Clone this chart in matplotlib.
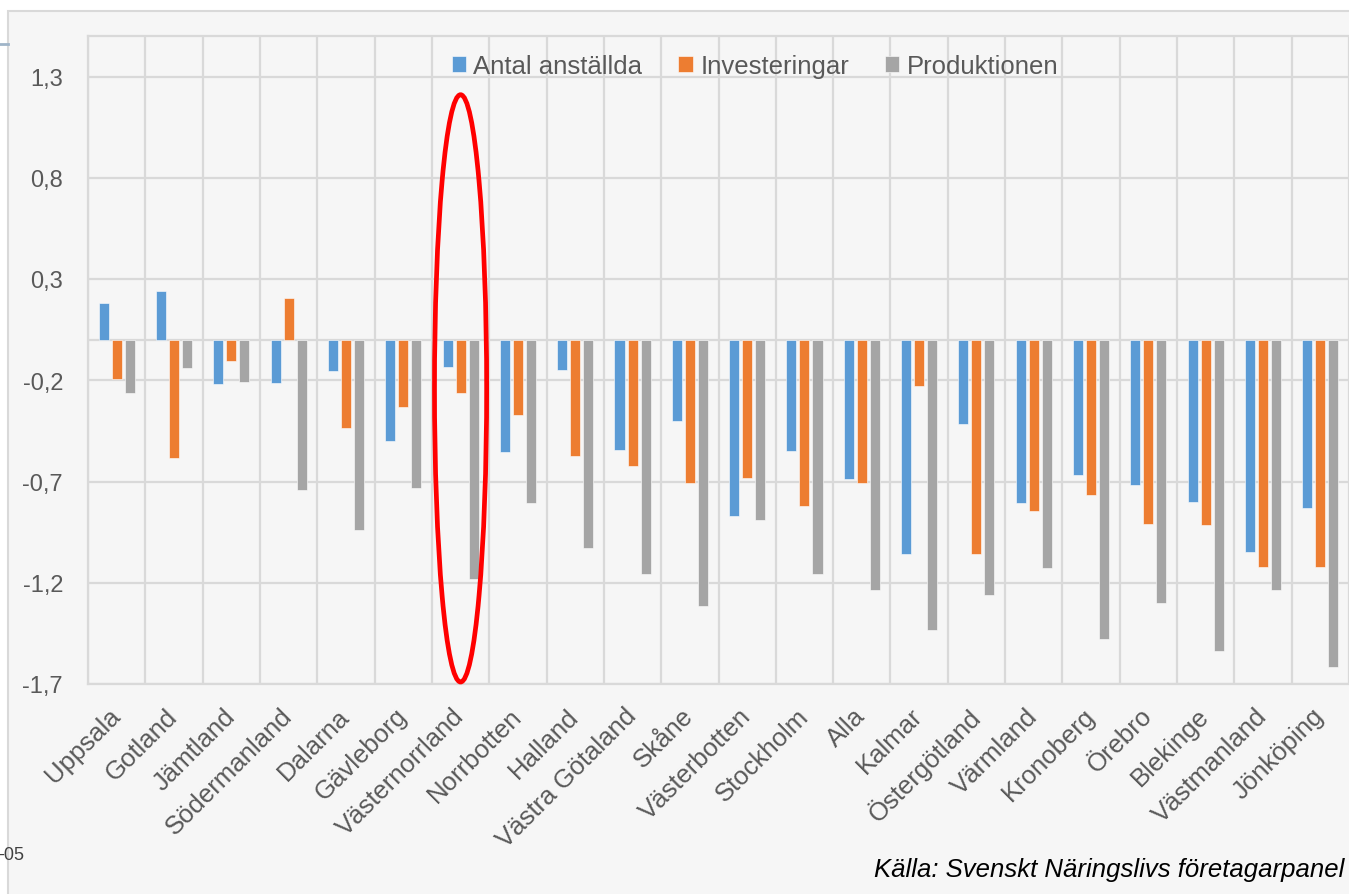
import numpy as np
import matplotlib
matplotlib.use("Agg")
import matplotlib.pyplot as plt
from matplotlib.patches import Ellipse, Rectangle
from matplotlib.lines import Line2D
from matplotlib.ticker import FuncFormatter

plt.rcParams['font.family'] = ['Liberation Sans', 'DejaVu Sans']

regions = ['Uppsala', 'Gotland', 'Jämtland', 'Södermanland', 'Dalarna', 'Gävleborg',
           'Västernorrland', 'Norrbotten', 'Halland', 'Västra Götaland', 'Skåne',
           'Västerbotten', 'Stockholm', 'Alla', 'Kalmar', 'Östergötland', 'Värmland',
           'Kronoberg', 'Örebro', 'Blekinge', 'Västmanland', 'Jönköping']

antal_anstallda = [0.18, 0.24, -0.22, -0.215, -0.155, -0.50, -0.137, -0.555, -0.15, -0.545,
                   -0.40, -0.87, -0.55, -0.69, -1.058, -0.415, -0.808, -0.667, -0.718,
                   -0.803, -1.05, -0.833]
investeringar = [-0.195, -0.586, -0.105, 0.206, -0.435, -0.33, -0.265, -0.374, -0.576, -0.623,
                 -0.708, -0.682, -0.82, -0.708, -0.228, -1.058, -0.848, -0.767, -0.91,
                 -0.917, -1.122, -1.122]
produktionen = [-0.265, -0.14, -0.211, -0.743, -0.94, -0.733, -1.18, -0.805, -1.027, -1.158,
                -1.313, -0.889, -1.158, -1.237, -1.435, -1.259, -1.128, -1.476, -1.301,
                -1.537, -1.237, -1.617]

series = ['Antal anställda', 'Investeringar', 'Produktionen']
colors = ['#5b9bd5', '#ed7d31', '#a5a5a5']
yticks = [-1.7, -1.2, -0.7, -0.2, 0.3, 0.8, 1.3]

text_col = '#595959'
grid_col = '#d9d9d9'

fig = plt.figure(figsize=(13.49, 8.95), dpi=100, facecolor='white')

# chart area frame (behind the axes)
fig.patches.append(Rectangle((8 / 1349, -0.1), 1.2, 1.1 - 12 / 895,
                             transform=fig.transFigure, facecolor='#f6f6f6',
                             edgecolor=grid_col, linewidth=1.5, zorder=-5))
fig.lines.append(Line2D([0, 8 / 1349], [1 - 45 / 895] * 2, transform=fig.transFigure,
                        color='#9fb4c8', linewidth=2, zorder=-4))

ax = fig.add_axes([88 / 1349, 1 - 685 / 895, 1 - 88 / 1349, (685 - 37) / 895])
ax.set_facecolor('#f6f6f6')

x = np.arange(len(regions))
w = 0.175
step = 0.227
for i, (vals, c, lab) in enumerate(zip([antal_anstallda, investeringar, produktionen],
                                       colors, series)):
    ax.bar(x + (i - 1) * step, vals, w, color=c, label=lab, zorder=3,
           edgecolor='white', linewidth=0.4)

ax.set_xlim(-0.5, len(regions) - 0.5)
ax.set_ylim(-1.7, 1.5)
ax.set_yticks(yticks)
ax.yaxis.set_major_formatter(FuncFormatter(lambda v, p: f'{v:.1f}'.replace('.', ',')))
ax.set_xticks(x)
ax.set_xticklabels(regions, rotation=45, ha='right', va='center', rotation_mode='anchor')
ax.tick_params(axis='both', length=0, colors=text_col)
ax.tick_params(axis='y', pad=18, labelsize=17)
ax.tick_params(axis='x', pad=20, labelsize=18.5)

for yv in yticks:
    ax.axhline(yv, color=grid_col, linewidth=1.6, zorder=1)
ax.axhline(0, color=grid_col, linewidth=1.6, zorder=1)
for xv in np.arange(-0.5, len(regions), 1.0):
    ax.axvline(xv, color=grid_col, linewidth=1.6, zorder=1)
for s in ['left', 'top', 'bottom']:
    ax.spines[s].set_color(grid_col)
    ax.spines[s].set_linewidth(1.6)
ax.spines['right'].set_visible(False)

leg = ax.legend(loc='upper center', bbox_to_anchor=(0.529, 1.0), ncol=3, frameon=False,
                fontsize=18.5, handlelength=0.55, handleheight=0.55, handletextpad=0.3,
                columnspacing=1.4, borderaxespad=0.3)
for t in leg.get_texts():
    t.set_color(text_col)

# highlight
i_hl = regions.index('Västernorrland')
ax.add_patch(Ellipse((i_hl, -0.24), 0.91, 2.90, fill=False, edgecolor='#ff0000',
                     linewidth=3.4, zorder=5, clip_on=False))

fig.text(24 / 1349, 1 - 856 / 895, '-05', ha='right', va='center', fontsize=13, color='#404040')
fig.text(874 / 1349, 1 - 870 / 895, 'Källa: Svenskt Näringslivs företagarpanel',
         ha='left', va='center', fontsize=18.5, style='italic', color='#000000')

fig.savefig('out.png', dpi=100, facecolor='white')
